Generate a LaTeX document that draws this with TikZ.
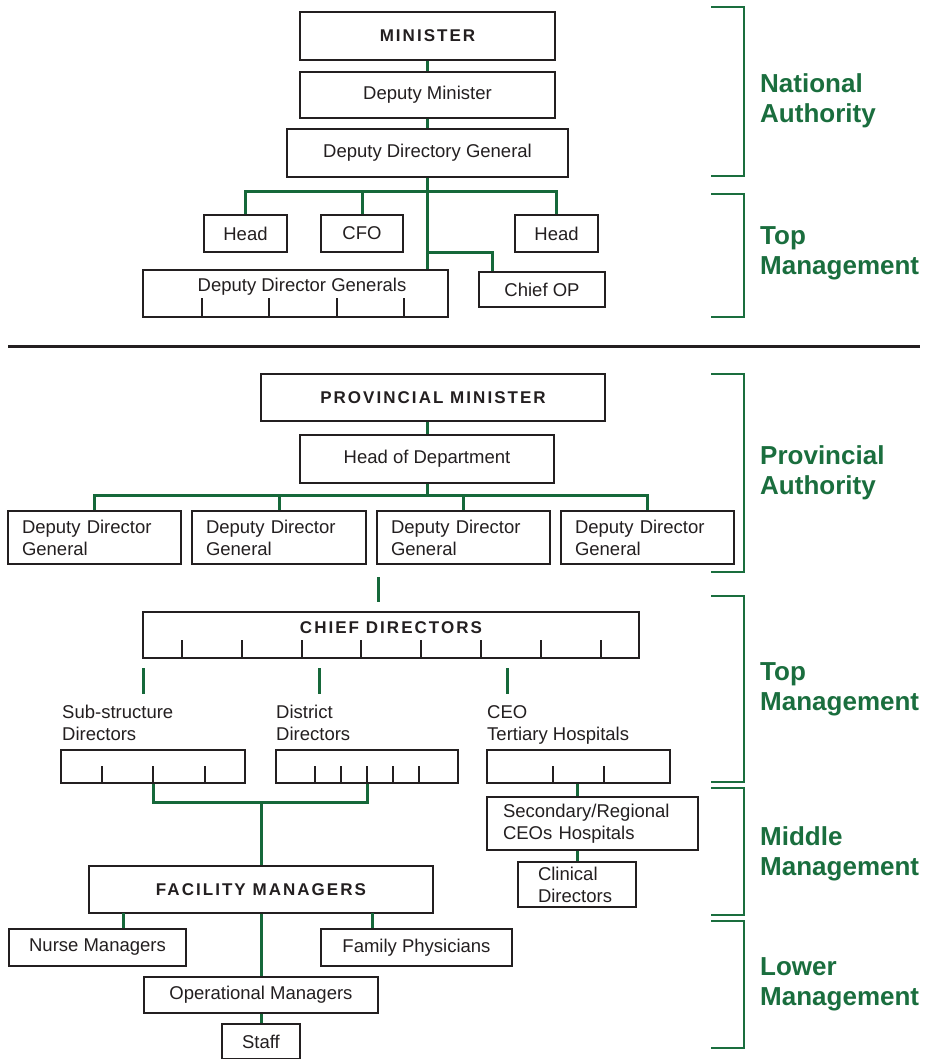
\documentclass[tikz,border=0pt]{standalone}
\usepackage{fontspec}
\setmainfont{Liberation Sans}
\usetikzlibrary{calc}
\definecolor{ink}{HTML}{231F20}
\definecolor{orggreen}{HTML}{16683A}
\definecolor{tiergreen}{HTML}{1A6E3E}
\newcommand\boxfont{\fontsize{18.5}{22}\selectfont}
\newcommand\capsfont{\fontsize{17}{20}\selectfont\bfseries\addfontfeature{LetterSpace=12}}
\newcommand\tierfont{\fontsize{26}{30}\selectfont\bfseries}

\begin{document}
\begin{tikzpicture}[x=1pt,y=-1pt,
  box/.style={draw=ink, line width=1.4pt, fill=white, text=ink, inner sep=0pt, font=\boxfont},
  capsbox/.style={box, font=\capsfont},
  lbox/.style={box, align=left, inner ysep=0pt},
  conn/.style={draw=orggreen, line width=3pt},
  tickmark/.style={draw=ink, line width=1.2pt},
  bracket/.style={draw=tiergreen, line width=2pt},
  tier/.style={text=tiergreen, font=\tierfont, align=left, anchor=west, inner sep=0pt},
  txt/.style={text=ink, font=\boxfont, inner sep=0pt},
  capstxt/.style={text=ink, font=\capsfont, inner sep=0pt}]

\useasboundingbox (0,0) rectangle (926,1059);
\fill[white] (0,0) rectangle (926,1059);

% ---------------- National level ----------------
\node[capsbox, minimum width=255, minimum height=48] (min)  at (427.5,36)  {MINISTER};
\node[box, minimum width=255, minimum height=46]     (dmin) at (427.5,95)  {Deputy Minister};
\node[box, minimum width=281, minimum height=48]     (ddg)  at (427.5,153) {Deputy Directory General};

\node[box, minimum width=83, minimum height=37] (head1) at (245.5,233.5) {Head};
\node[box, minimum width=82, minimum height=37] (cfo)   at (362,233.5)   {CFO};
\node[box, minimum width=83, minimum height=37] (head2) at (556.5,233.5) {Head};
\node[box, minimum width=305, minimum height=47] (ddgs) at (295.5,293.5) {};
\node[txt] (ddgslabel) at ($(ddgs.north)+(6.5,17)$) {Deputy Director Generals};
\foreach \x in {202,269,337,404} \draw[tickmark] (\x,298) -- (\x,317);
\node[box, minimum width=126, minimum height=35] (chiefop) at (542,289.5) {Chief OP};

\coordinate (nbus) at (427.5,192);
\coordinate (opjoin) at (492,252);
\draw[conn] (min.south) -- (dmin.north);
\draw[conn] (dmin.south) -- (ddg.north);
\draw[conn] (ddg.south) -- (ddg.south |- ddgs.north);
\draw[conn] (head1.north) -- (head1.north |- nbus) -- (head2.north |- nbus) -- (head2.north);
\draw[conn] (cfo.north) -- (cfo.north |- nbus);
\draw[conn] (ddg.south |- opjoin) -- (opjoin) -- (opjoin |- chiefop.north);

% ---------------- divider ----------------
\coordinate (ruleL) at (8,346);
\coordinate (ruleR) at (920,346);
\draw[draw=ink, line width=3pt] (ruleL) -- (ruleR);

% ---------------- Provincial level ----------------
\node[capsbox, minimum width=344, minimum height=47] (pmin) at (433,397.5) {PROVINCIAL MINISTER};
\node[box, minimum width=254, minimum height=48]     (hod)  at (427,459)   {Head of Department};

\node[lbox, text width=145, inner xsep=14, minimum height=53] (dg1) at (94.5,537.5)  {Deputy Director\\General};
\node[lbox, text width=146, inner xsep=14, minimum height=53] (dg2) at (279,537.5)   {Deputy Director\\General};
\node[lbox, text width=145, inner xsep=14, minimum height=53] (dg3) at (463.5,537.5) {Deputy Director\\General};
\node[lbox, text width=145, inner xsep=14, minimum height=53] (dg4) at (647.5,537.5) {Deputy Director\\General};

\coordinate (pbus) at (427,495);
\draw[conn] (pmin.south -| hod.north) -- (hod.north);
\draw[conn] (hod.south) -- (pbus);
\draw[conn] (dg1.north) -- (dg1.north |- pbus) -- (dg4.north |- pbus) -- (dg4.north);
\draw[conn] (dg2.north) -- (dg2.north |- pbus);
\draw[conn] (dg3.north) -- (dg3.north |- pbus);

\coordinate (cdstub) at (378,577);
\draw[conn] (cdstub) -- ++(0,25);

\node[box, minimum width=496, minimum height=46] (chief) at (391,635) {};
\node[capstxt] (chieflabel) at ($(chief.north)+(0,16)$) {CHIEF DIRECTORS};
\foreach \x in {182,242,302,361,421,481,541,601} \draw[tickmark] (\x,640) -- (\x,658);

\coordinate (stubA) at (143,668);
\coordinate (stubB) at (319,668);
\coordinate (stubC) at (507,668);
\foreach \s in {stubA,stubB,stubC} \draw[conn] (\s) -- ++(0,26);

\node[txt, align=left, anchor=north west] (sublabel)  at (62,705)  {Sub-structure\\Directors};
\node[txt, align=left, anchor=north west] (distlabel) at (276,705) {District\\Directors};
\node[txt, align=left, anchor=north west] (ceolabel)  at (487,705) {CEO\\Tertiary Hospitals};

\node[box, minimum width=184, minimum height=33] (sub)  at (153,766.5)   {};
\node[box, minimum width=182, minimum height=33] (dist) at (367,766.5)   {};
\node[box, minimum width=183, minimum height=33] (ceo)  at (578.5,766.5) {};
\foreach \x in {102,153,205,315,341,367,393,419,553,604} \draw[tickmark] (\x,766) -- (\x,783);

\node[lbox, text width=179, inner xsep=16, minimum height=53] (sec)  at (592.5,823.5) {Secondary/Regional\\CEOs Hospitals};
\node[lbox, text width=78, inner xsep=20, minimum height=45]  (clin) at (577,884.5)   {Clinical\\Directors};
\draw[conn] (ceo.south -| clin.north) -- (sec.north -| clin.north);
\draw[conn] (sec.south -| clin.north) -- (clin.north);

% ---------------- Facility level ----------------
\node[capsbox, minimum width=344, minimum height=47] (fac)   at (261,889.5) {FACILITY MANAGERS};
\node[box, minimum width=177, minimum height=37] (nurse)  at (97.5,947.5)  {Nurse Managers};
\node[box, minimum width=191, minimum height=37] (family) at (416.5,947.5) {Family Physicians};
\node[box, minimum width=234, minimum height=36] (opm)    at (261,995)     {Operational Managers};
\node[box, minimum width=78, minimum height=35]  (staff)  at (261,1041.5)  {Staff};

\coordinate (merge) at (261,802);
\draw[conn] (sub.south) -- (sub.south |- merge) -- (dist.south |- merge) -- (dist.south);
\draw[conn] (merge) -- (fac.north);
\draw[conn] (fac.south) -- (opm.north);
\draw[conn] (opm.south) -- (staff.north);
\coordinate (nurseDrop) at (123,913);
\coordinate (famDrop) at (372,913);
\draw[conn] (nurseDrop) -- (nurseDrop |- nurse.north);
\draw[conn] (famDrop) -- (famDrop |- family.north);

% ---------------- tier brackets ----------------
\foreach \t/\b in {7/176,194/317,374/572,596/782,788/915,921/1048}
  \draw[bracket] (711,\t) -- (744,\t) -- (744,\b) -- (711,\b);

\node[tier] (tNat)  at (760,100.5) {National\\Authority};
\node[tier] (tTop1) at (760,253.5) {Top\\Management};
\node[tier] (tProv) at (760,473)   {Provincial\\Authority};
\node[tier] (tTop2) at (760,689.5) {Top\\Management};
\node[tier] (tMid)  at (760,853.5) {Middle\\Management};
\node[tier] (tLow)  at (760,984.5) {Lower\\Management};
\end{tikzpicture}
\end{document}
